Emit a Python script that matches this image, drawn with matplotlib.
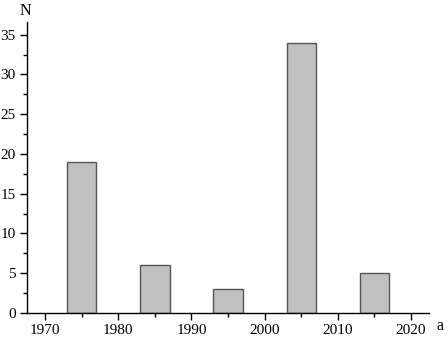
import numpy as np
import matplotlib.pyplot as plt
from matplotlib.ticker import MultipleLocator

# decade centres and counts
years = [1975, 1985, 1995, 2005, 2015]
counts = [19, 6, 3, 34, 5]

plt.rcParams['font.family'] = ['Liberation Serif', 'DejaVu Serif']
plt.rcParams['font.size'] = 11

fig = plt.figure(figsize=(4.48, 3.38), dpi=100)
ax = fig.add_axes([0.060, 0.074, 0.898, 0.861])

ax.bar(years, counts, width=4, color='#c0c0c0', edgecolor='#555555', linewidth=1.0)

ax.set_xlim(1967.5, 2022.5)
ax.set_ylim(0, 36.6)
ax.xaxis.set_major_locator(MultipleLocator(10))
ax.xaxis.set_minor_locator(MultipleLocator(5))
ax.yaxis.set_major_locator(MultipleLocator(5))
ax.yaxis.set_minor_locator(MultipleLocator(2.5))

for s in ['top', 'right']:
    ax.spines[s].set_visible(False)
for s in ['left', 'bottom']:
    ax.spines[s].set_linewidth(1.0)

ax.tick_params(which='major', length=5, width=1, direction='out', pad=3)
ax.tick_params(which='minor', length=3, width=1, direction='out')

fig.text(25 / 448, 1 - 11 / 338, 'N', ha='center', va='center', fontsize=11.5)
fig.text(440 / 448, 1 - 326 / 338, 'a', ha='center', va='center', fontsize=11.5)

fig.savefig('out.png', dpi=100)
